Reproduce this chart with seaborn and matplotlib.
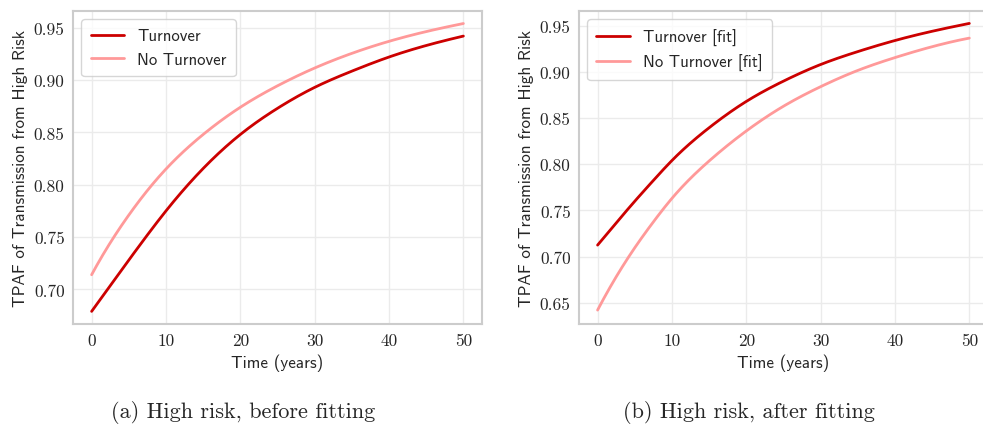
import numpy as np
import pandas as pd
import matplotlib
matplotlib.use("Agg")
import matplotlib.pyplot as plt
import seaborn as sns

# Data
years = [0, 2.5, 5, 7.5, 10, 15, 20, 25, 30, 35, 40, 45, 50]
before_turnover = [0.679, 0.7035, 0.728, 0.752, 0.775, 0.8155, 0.848, 0.873, 0.893,
                   0.9085, 0.922, 0.933, 0.942]
before_no_turnover = [0.714, 0.7445, 0.771, 0.7945, 0.815, 0.848, 0.874, 0.8945, 0.9115,
                      0.9255, 0.937, 0.9463, 0.954]
after_turnover = [0.7124, 0.7364, 0.7599, 0.7824, 0.804, 0.8395, 0.868, 0.890, 0.908,
                  0.922, 0.934, 0.944, 0.9525]
after_no_turnover = [0.642, 0.678, 0.7095, 0.7375, 0.763, 0.8035, 0.836, 0.8628, 0.884,
                     0.9016, 0.9155, 0.9273, 0.9366]

labels_a = ["Turnover", "No Turnover"]
labels_b = ["Turnover [fit]", "No Turnover [fit]"]
captions = ["(a) High risk, before fitting", "(b) High risk, after fitting"]
yticks_a = [0.70, 0.75, 0.80, 0.85, 0.90, 0.95]
yticks_b = [0.65, 0.70, 0.75, 0.80, 0.85, 0.90, 0.95]
xticks = [0, 10, 20, 30, 40, 50]

dark = "#cc0000"
light = "#ff9999"

sns.set_theme(style="whitegrid")
plt.rcParams["axes.formatter.use_mathtext"] = True
plt.rcParams["axes.unicode_minus"] = False


def spline(x, y, n=300):
    # not-a-knot cubic spline through the read points, for a smooth line
    x = np.asarray(x, float); y = np.asarray(y, float)
    k = len(x); h = np.diff(x)
    A = np.zeros((k, k)); b = np.zeros(k)
    A[0, 0] = h[1]; A[0, 1] = -(h[0] + h[1]); A[0, 2] = h[0]
    A[-1, -3] = h[-1]; A[-1, -2] = -(h[-2] + h[-1]); A[-1, -1] = h[-2]
    for i in range(1, k - 1):
        A[i, i - 1] = h[i - 1]; A[i, i] = 2 * (h[i - 1] + h[i]); A[i, i + 1] = h[i]
        b[i] = 6 * ((y[i + 1] - y[i]) / h[i] - (y[i] - y[i - 1]) / h[i - 1])
    M = np.linalg.solve(A, b)
    xs = np.linspace(x[0], x[-1], n)
    idx = np.clip(np.searchsorted(x, xs, side="right") - 1, 0, k - 2)
    x0 = x[idx]; x1 = x[idx + 1]; hh = x1 - x0
    ys = (M[idx] * (x1 - xs) ** 3 / (6 * hh) + M[idx + 1] * (xs - x0) ** 3 / (6 * hh)
          + (y[idx] / hh - M[idx] * hh / 6) * (x1 - xs)
          + (y[idx + 1] / hh - M[idx + 1] * hh / 6) * (xs - x0))
    return xs, ys


fig = plt.figure(figsize=(9.83, 4.27), dpi=100)
ax1 = fig.add_axes([0.0743, 0.239, 0.416, 0.733])
ax2 = fig.add_axes([0.589, 0.239, 0.416, 0.733])

panels = [
    (ax1, before_turnover, before_no_turnover, labels_a, yticks_a),
    (ax2, after_turnover, after_no_turnover, labels_b, yticks_b),
]

for ax, s1, s2, labs, yt in panels:
    frames = []
    for s, lab in [(s1, labs[0]), (s2, labs[1])]:
        xs, ys = spline(years, s)
        frames.append(pd.DataFrame({"t": xs, "v": ys, "series": lab}))
    df = pd.concat(frames)
    sns.lineplot(data=df, x="t", y="v", hue="series", palette=[dark, light],
                 linewidth=2, ax=ax, legend=True)
    ax.set_xticks(xticks)
    ax.set_yticks(yt)
    ax.set_xticklabels([f"{v}" for v in xticks], fontfamily="cmr10", fontsize=12.5)
    ax.set_yticklabels([f"{v:.2f}" for v in yt], fontfamily="cmr10", fontsize=12.5)
    ax.set_xlabel("Time (years)", fontfamily="cmss10", fontsize=12.3, labelpad=4)
    ax.set_ylabel("TPAF of Transmission from High Risk", fontfamily="cmss10", fontsize=12.3)
    ax.grid(True, color="#ebebeb", linewidth=1)
    for sp in ax.spines.values():
        sp.set_color("#cccccc")
        sp.set_linewidth(1.5)
    ax.tick_params(axis="both", length=0, pad=6)
    leg = ax.legend(loc="upper left", fontsize=12, frameon=True, handlelength=2.0,
                    borderpad=0.55, labelspacing=0.5)
    leg.get_frame().set_edgecolor("#cccccc")
    for t in leg.get_texts():
        t.set_fontfamily("cmss10")

ax1.set_ylim(0.667, 0.966)
ax2.set_ylim(0.627, 0.966)

fig.text(0.247, 0.033, captions[0], ha="center", va="center", fontfamily="cmr10", fontsize=16)
fig.text(0.762, 0.033, captions[1], ha="center", va="center", fontfamily="cmr10", fontsize=16)

fig.savefig("out.png", dpi=100)
